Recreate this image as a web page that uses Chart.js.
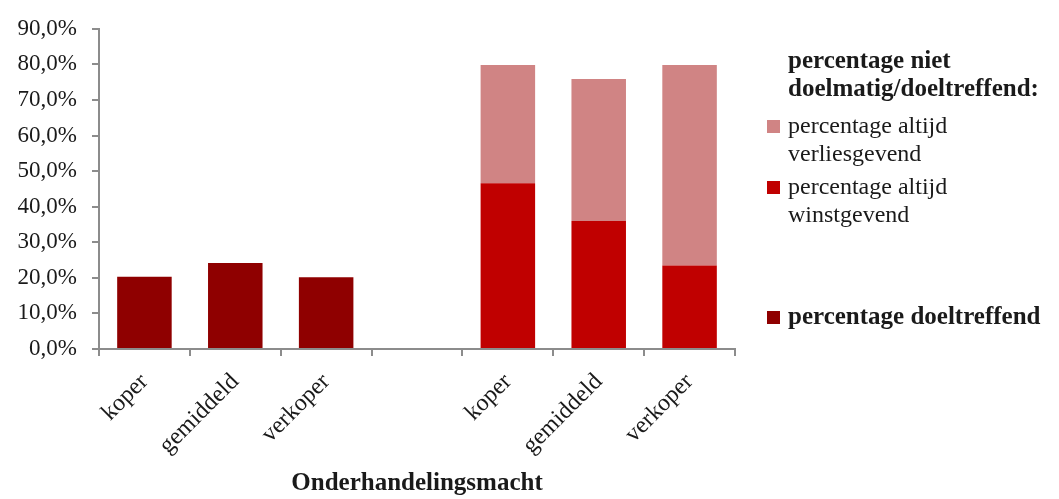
<!DOCTYPE html>
<html>
<head>
<meta charset="utf-8">
<script src="https://cdn.jsdelivr.net/npm/chart.js@4.4.1/dist/chart.umd.min.js"></script>
<style>
  html, body { margin: 0; padding: 0; background: #fff; }
  #wrap { width: 1059px; height: 499px; }
</style>
</head>
<body>
<div id="wrap"><canvas id="myChart" width="1059" height="499"></canvas></div>
<script>
const categories = ["koper", "gemiddeld", "verkoper", "", "koper", "gemiddeld", "verkoper"];
const doeltreffend = [20.3, 24.2, 20.2, null, null, null, null];
const winstgevend = [null, null, null, null, 46.6, 36.0, 23.5];
const verliesgevend = [null, null, null, null, 33.2, 39.9, 56.3];
const yTicks = [0, 10, 20, 30, 40, 50, 60, 70, 80, 90];
const legendTitle = ["percentage niet", "doelmatig/doeltreffend:"];

const font = "'Liberation Serif', 'Times New Roman', serif";
const axisColor = "#8c8c8c";
const textColor = "#1a1a1a";

// legend drawn by hand: wrapped labels and a bold title like the original
const sideLegend = {
    id: "sideLegend",
    afterDraw(chart) {
        const c = chart.ctx;
        const ds = chart.data.datasets;
        const x0 = 767, tx = 788, lh = 28;
        c.save();
        c.textBaseline = "middle";
        c.textAlign = "left";
        c.fillStyle = textColor;
        c.font = "bold 25px " + font;
        c.fillText(legendTitle[0], tx, 62);
        c.fillText(legendTitle[1], tx, 90);

        const items = [
            { d: ds[2], y: 127, bold: false },
            { d: ds[1], y: 188, bold: false },
            { d: ds[0], y: 318, bold: true },
        ];
        items.forEach(it => {
            c.fillStyle = it.d.backgroundColor;
            c.fillRect(x0, it.y - 7, 13, 13);
            c.fillStyle = textColor;
            c.font = it.bold ? "bold 25px " + font : "24px " + font;
            const lines = Array.isArray(it.d.legendLines) ? it.d.legendLines : [it.d.label];
            lines.forEach((ln, i) => c.fillText(ln, tx, it.y + i * lh));
        });
        c.restore();
    }
};

const ctx = document.getElementById("myChart").getContext("2d");

const data = {
    labels: categories,
    datasets: [
        {
            label: "percentage doeltreffend",
            legendLines: ["percentage doeltreffend"],
            data: doeltreffend,
            backgroundColor: "#8f0000",
        },
        {
            label: "percentage altijd winstgevend",
            legendLines: ["percentage altijd", "winstgevend"],
            data: winstgevend,
            backgroundColor: "#c00000",
        },
        {
            label: "percentage altijd verliesgevend",
            legendLines: ["percentage altijd", "verliesgevend"],
            data: verliesgevend,
            backgroundColor: "#d08484",
        },
    ],
};

const config = {
    type: "bar",
    data: data,
    options: {
        responsive: false,
        animation: false,
        categoryPercentage: 1.0,
        barPercentage: 0.6,
        layout: { padding: { top: 25, right: 324, left: 0, bottom: 0 } },
        plugins: {
            legend: { display: false },
            tooltip: { enabled: false },
        },
        scales: {
            x: {
                stacked: true,
                grid: {
                    offset: true,
                    drawOnChartArea: false,
                    drawTicks: true,
                    tickLength: 7,
                    color: axisColor,
                    lineWidth: 2,
                },
                border: { color: axisColor, width: 2 },
                ticks: {
                    color: textColor,
                    font: { family: font, size: 24 },
                    minRotation: 45,
                    maxRotation: 45,
                    padding: 12,
                },
                title: {
                    display: true,
                    text: "Onderhandelingsmacht",
                    color: textColor,
                    font: { family: font, size: 25, weight: "bold" },
                    padding: { top: 0, bottom: 0 },
                },
                afterFit: (s) => { s.height = 150; },
            },
            y: {
                stacked: true,
                min: 0,
                max: 90,
                afterBuildTicks: (s) => { s.ticks = yTicks.map(v => ({ value: v })); },
                grid: {
                    drawOnChartArea: false,
                    drawTicks: true,
                    tickLength: 7,
                    color: axisColor,
                    lineWidth: 2,
                },
                border: { color: axisColor, width: 2 },
                ticks: {
                    color: textColor,
                    font: { family: font, size: 23 },
                    padding: 15,
                    callback: (v) => v.toFixed(1).replace(".", ",") + "%",
                },
                afterFit: (s) => { s.width = 99; },
            },
        },
    },
    plugins: [sideLegend],
};

const myChart = new Chart(ctx, config);
</script>
</body>
</html>
